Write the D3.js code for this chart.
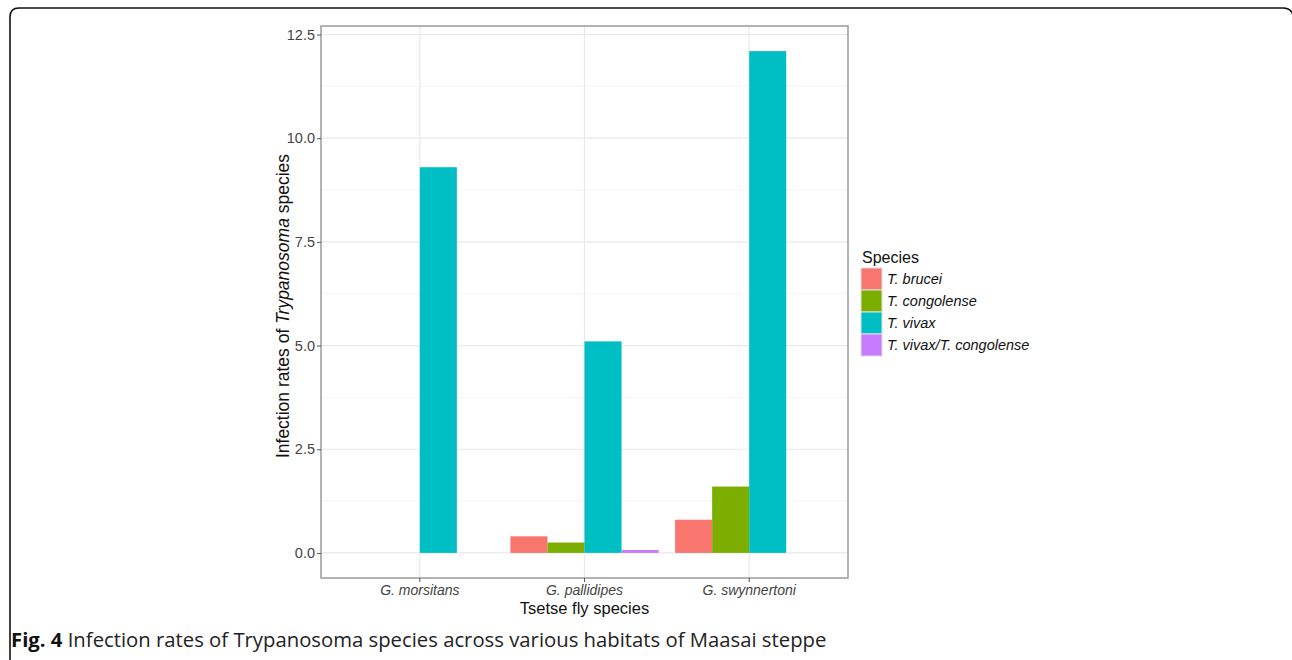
<!DOCTYPE html>
<html><head><meta charset="utf-8">
<script src="https://cdn.jsdelivr.net/npm/d3@7"></script>
<style>body{margin:0;background:#fff}svg{display:block}</style>
</head><body>
<svg id="c" width="1292" height="660"></svg>
<script>
const categories = ["G. morsitans", "G. pallidipes", "G. swynnertoni"];
const seriesNames = ["T. brucei", "T. congolense", "T. vivax", "T. vivax/T. congolense"];
const brucei = [0, 0.4, 0.8];
const congolense = [0, 0.25, 1.6];
const vivax = [9.3, 5.1, 12.1];
const vivaxCongolense = [0, 0.07, 0];
const colors = ["#F8766D", "#7CAE00", "#00BFC4", "#C77CFF"];
const yTicks = [0, 2.5, 5, 7.5, 10, 12.5];
const yMinor = [1.25, 3.75, 6.25, 8.75, 11.25];

const seriesValues = [brucei, congolense, vivax, vivaxCongolense];
const svg = d3.select("#c");
const L = 321, R = 848, T = 26, B = 578;
const FONT = "Liberation Sans, Arial, sans-serif";
const maxV = d3.max(seriesValues.flat());
const pad = maxV * 0.05;
const y = d3.scaleLinear().domain([0 - pad, maxV + pad]).range([B, T]);
const x = d3.scaleBand().domain(categories).range([L, R]).paddingInner(0).paddingOuter(0.1);
const groupW = x.bandwidth() * 0.9;
const xs = d3.scaleBand().domain(seriesNames).range([0, groupW]);

// frame
svg.append("path")
  .attr("d", "M10,670 L10,17 Q10,8 19,8 L1283,8 Q1293,8 1293,18 L1293,670")
  .attr("fill", "none").attr("stroke", "#111").attr("stroke-width", 1.6);

// panel bg
svg.append("rect").attr("x", L).attr("y", T).attr("width", R - L).attr("height", B - T).attr("fill", "#fff");
// minor grid
svg.append("g").selectAll("line").data(yMinor).join("line")
  .attr("x1", L).attr("x2", R).attr("y1", d => y(d)).attr("y2", d => y(d))
  .attr("stroke", "#f4f4f4").attr("stroke-width", 1);
// major grid
svg.append("g").selectAll("line").data(yTicks).join("line")
  .attr("x1", L).attr("x2", R).attr("y1", d => y(d)).attr("y2", d => y(d))
  .attr("stroke", "#e9e9e9").attr("stroke-width", 1.2);
svg.append("g").selectAll("line").data(categories).join("line")
  .attr("x1", d => x(d) + x.bandwidth() / 2).attr("x2", d => x(d) + x.bandwidth() / 2)
  .attr("y1", T).attr("y2", B)
  .attr("stroke", "#e9e9e9").attr("stroke-width", 1.2);

// bars
const barData = [];
seriesValues.forEach((arr, si) => arr.forEach((v, ci) => {
  if (v > 0) barData.push({ s: seriesNames[si], c: categories[ci], v, col: colors[si] });
}));
svg.append("g").selectAll("rect").data(barData).join("rect")
  .attr("x", d => x(d.c) + (x.bandwidth() - groupW) / 2 + xs(d.s))
  .attr("width", xs.bandwidth())
  .attr("y", d => y(d.v)).attr("height", d => y(0) - y(d.v))
  .attr("fill", d => d.col);

// border
svg.append("rect").attr("x", L).attr("y", T).attr("width", R - L).attr("height", B - T)
  .attr("fill", "none").attr("stroke", "#9a9a9a").attr("stroke-width", 1.5);

// axes
const yAxis = d3.axisLeft(y).tickValues(yTicks).tickFormat(d3.format(".1f")).tickSize(4).tickPadding(2);
const gy = svg.append("g").attr("transform", `translate(${L},0)`).call(yAxis);
gy.select(".domain").remove();
gy.selectAll(".tick line").attr("stroke", "#555");
gy.selectAll(".tick text").attr("fill", "#444").style("font-family", FONT).style("font-size", "14.5px");

const xAxis = d3.axisBottom(x).tickSize(4).tickPadding(3);
const gx = svg.append("g").attr("transform", `translate(0,${B})`).call(xAxis);
gx.select(".domain").remove();
gx.selectAll(".tick line").attr("stroke", "#555");
gx.selectAll(".tick text").attr("fill", "#444").style("font-family", FONT)
  .style("font-size", "14px").style("font-style", "italic");

// axis titles
svg.append("text").attr("x", (L + R) / 2).attr("y", 614).attr("text-anchor", "middle")
  .style("font-family", FONT).style("font-size", "16.5px").attr("fill", "#111")
  .text("Tsetse fly species");
const yt = svg.append("text").attr("transform", `translate(289,${(T + B) / 2 + 4}) rotate(-90)`).attr("text-anchor", "middle")
  .style("font-family", FONT).style("font-size", "17.5px").attr("fill", "#111");
yt.append("tspan").text("Infection rates of ");
yt.append("tspan").style("font-style", "italic").text("Trypanosoma");
yt.append("tspan").text(" species");

// legend
const lg = svg.append("g").attr("transform", "translate(861,268)");
lg.append("text").attr("x", 1).attr("y", -5).style("font-family", FONT)
  .style("font-size", "16px").attr("fill", "#111").text("Species");
const keyH = 22;
lg.selectAll("rect").data(seriesNames).join("rect")
  .attr("x", 0).attr("y", (d, i) => i * keyH).attr("width", 21).attr("height", keyH)
  .attr("fill", (d, i) => colors[i]).attr("stroke", "#e0e0e0").attr("stroke-width", 1);
lg.selectAll("text.lab").data(seriesNames).join("text").attr("class", "lab")
  .attr("x", 26).attr("y", (d, i) => i * keyH + keyH / 2 + 5)
  .style("font-family", FONT).style("font-size", "14.5px").style("font-style", "italic")
  .attr("fill", "#111").text(d => d);

// caption
const cap = svg.append("text").attr("x", 11).attr("y", 647)
  .style("font-family", "Open Sans, sans-serif").style("font-size", "20.3px").attr("fill", "#222");
cap.append("tspan").style("font-weight", "bold").attr("fill", "#111").text("Fig. 4");
cap.append("tspan").text(" Infection rates of Trypanosoma species across various habitats of Maasai steppe");
</script>
</body></html>
